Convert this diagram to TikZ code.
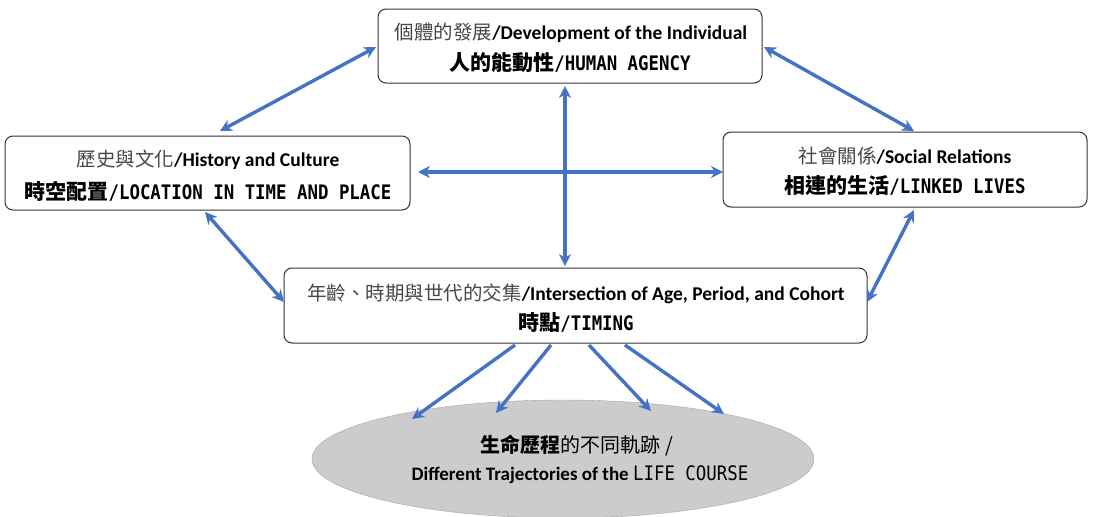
\documentclass[tikz,border=0pt]{standalone}
\usepackage{fontspec}
\setmainfont{Carlito}
\newfontfamily\cjk{Noto Sans CJK TC}
\newfontfamily\monof[FakeStretch=0.87]{DejaVu Sans Mono}
\usetikzlibrary{arrows.meta,shapes.geometric}
\definecolor{ablue}{RGB}{68,114,196}
\newcommand{\lineone}[2]{{\cjk\fontsize{19.5}{22}\selectfont\color{black!72}#1}{\rmfamily\bfseries\fontsize{19.5}{22}\selectfont /#2}}
\newcommand{\linetwo}[2]{{\cjk\bfseries\fontsize{21}{24}\selectfont #1}{\monof\bfseries\fontsize{20}{24}\selectfont /#2}}
\begin{document}
\begin{tikzpicture}[x=1pt,y=-1pt,
  box/.style={draw=black!80,line width=1pt,rounded corners=8pt,fill=white,inner sep=0pt},
  txt/.style={anchor=base,inner sep=0pt},
  conn/.style={ablue,line width=3.4pt,{Stealth[length=12pt,width=12pt]}-{Stealth[length=12pt,width=12pt]}},
  oneway/.style={ablue,line width=3.4pt,-{Stealth[length=12pt,width=12pt]}}]
\useasboundingbox (0,0) rectangle (1093,517);
\node[box,minimum width=384pt,minimum height=74pt] (top) at (570,46) {};
\node[box,minimum width=405pt,minimum height=74pt] (left) at (207.5,173) {};
\node[box,minimum width=364pt,minimum height=75pt] (right) at (905,169.5) {};
\node[box,minimum width=583pt,minimum height=75pt] (bot) at (575.5,305.5) {};
\node[draw=black!35,fill=black!20,ellipse,minimum width=502pt,minimum height=118pt] (ell) at (563,459) {};
% texts
\node[txt] (t1) at (571,39) {\lineone{個體的發展}{Development of the Individual}};
\node[txt] (t2) at (570,70) {\linetwo{人的能動性}{HUMAN AGENCY}};
\node[txt] (l1) at (208,166) {\lineone{歷史與文化}{History and Culture}};
\node[txt] (l2) at (208,199) {\linetwo{時空配置}{LOCATION IN TIME AND PLACE}};
\node[txt] (r1) at (905,163) {\lineone{社會關係}{Social Relations}};
\node[txt] (r2) at (905,193) {\linetwo{相連的生活}{LINKED LIVES}};
\node[txt] (b1) at (576,300) {\lineone{年齡、時期與世代的交集}{Intersection of Age, Period, and Cohort}};
\node[txt] (b2) at (576,330) {\linetwo{時點}{TIMING}};
\node[txt] (e1) at (577,452) {\cjk\fontsize{20}{22}\selectfont{\bfseries 生命歷程}的不同軌跡 /};
\node[txt] (e2) at (580,480) {{\rmfamily\bfseries\fontsize{19}{22}\selectfont Different Trajectories of the }{\monof\fontsize{20}{22}\selectfont LIFE COURSE}};
% connector endpoints
\coordinate (a1) at (220,131);
\coordinate (a2) at (376,47);
\coordinate (b1s) at (764,47);
\coordinate (b2e) at (914,131);
\coordinate (c1) at (205,212);
\coordinate (c2) at (284,302);
\coordinate (d1) at (914,210);
\coordinate (d2) at (867,302);
\coordinate (h1) at (418,172);
\coordinate (h2) at (723,172);
\coordinate (v1) at (565,86);
\coordinate (v2) at (565,266);
\draw[conn] (a1) -- (a2);
\draw[conn] (b1s) -- (b2e);
\draw[conn] (c1) -- (c2);
\draw[conn] (d1) -- (d2);
\draw[conn] (h1) -- (h2);
\draw[conn] (v1) -- (v2);
\coordinate (s1) at (515,345);
\coordinate (s2) at (551,345);
\coordinate (s3) at (589,345);
\coordinate (s4) at (625,345);
\coordinate (e1e) at (412,419);
\coordinate (e2e) at (496,413);
\coordinate (e3e) at (651,411);
\coordinate (e4e) at (724,414);
\draw[oneway] (s1) -- (e1e);
\draw[oneway] (s2) -- (e2e);
\draw[oneway] (s3) -- (e3e);
\draw[oneway] (s4) -- (e4e);
\end{tikzpicture}
\end{document}
